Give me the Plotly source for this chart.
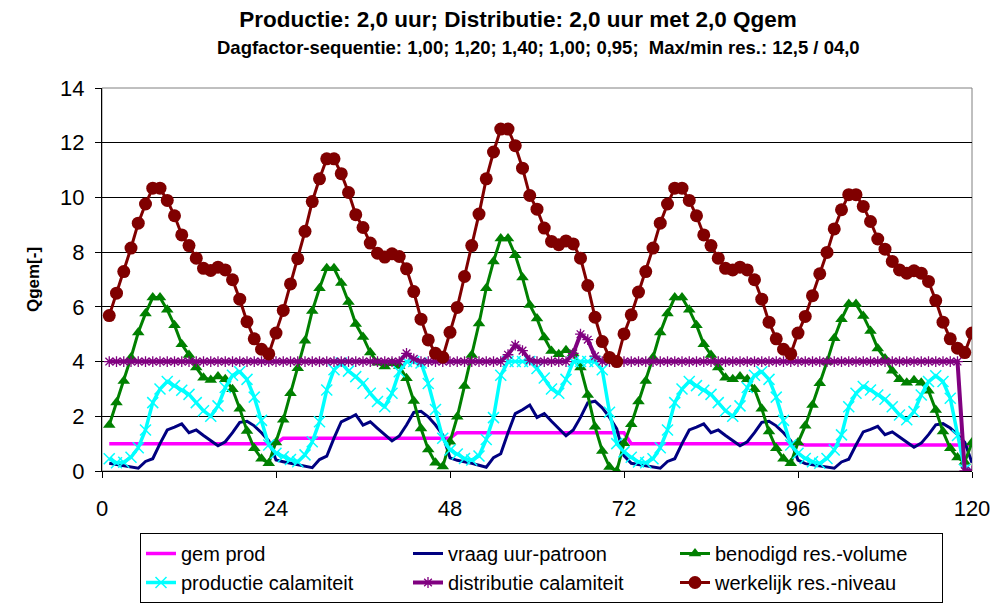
import plotly.graph_objects as go

FONT = "Liberation Sans, Arial, sans-serif"

hours = list(range(1, 121))
x_ticks = [0, 24, 48, 72, 96, 120]
y_ticks = [0, 2, 4, 6, 8, 10, 12, 14]

title_text = "Productie: 2,0 uur; Distributie: 2,0 uur met 2,0 Qgem"
subtitle_text = "Dagfactor-sequentie: 1,00; 1,20; 1,40; 1,00; 0,95;  Max/min res.: 12,5 / 04,0"
y_title = "Qgem[-]"

gem_prod = [
    1.00, 1.00, 1.00, 1.00, 1.00, 1.00, 1.00, 1.00, 1.00, 1.00, 1.00, 1.00,
    1.00, 1.00, 1.00, 1.00, 1.00, 1.00, 1.00, 1.00, 1.00, 1.00, 1.00, 1.00,
    1.20, 1.20, 1.20, 1.20, 1.20, 1.20, 1.20, 1.20, 1.20, 1.20, 1.20, 1.20,
    1.20, 1.20, 1.20, 1.20, 1.20, 1.20, 1.20, 1.20, 1.20, 1.20, 1.20, 1.20,
    1.40, 1.40, 1.40, 1.40, 1.40, 1.40, 1.40, 1.40, 1.40, 1.40, 1.40, 1.40,
    1.40, 1.40, 1.40, 1.40, 1.40, 1.40, 1.40, 1.40, 1.40, 1.40, 1.40, 1.40,
    1.00, 1.00, 1.00, 1.00, 1.00, 1.00, 1.00, 1.00, 1.00, 1.00, 1.00, 1.00,
    1.00, 1.00, 1.00, 1.00, 1.00, 1.00, 1.00, 1.00, 1.00, 1.00, 1.00, 1.00,
    0.95, 0.95, 0.95, 0.95, 0.95, 0.95, 0.95, 0.95, 0.95, 0.95, 0.95, 0.95,
    0.95, 0.95, 0.95, 0.95, 0.95, 0.95, 0.95, 0.95, 0.95, 0.95, 0.95, 0.95,
]

vraag_uur_patroon = [
    0.28, 0.24, 0.20, 0.15, 0.10, 0.35, 0.45, 1.00, 1.50, 1.60, 1.72, 1.40,
    1.50, 1.30, 1.10, 0.92, 1.07, 1.40, 1.78, 1.82, 1.65, 1.40, 1.10, 0.40,
    0.34, 0.29, 0.24, 0.18, 0.12, 0.42, 0.54, 1.20, 1.80, 1.92, 2.06, 1.68,
    1.80, 1.56, 1.32, 1.10, 1.28, 1.68, 2.14, 2.18, 1.98, 1.68, 1.32, 0.48,
    0.39, 0.34, 0.28, 0.21, 0.14, 0.49, 0.63, 1.40, 2.10, 2.24, 2.41, 1.96,
    2.10, 1.82, 1.54, 1.29, 1.50, 1.96, 2.49, 2.55, 2.31, 1.96, 1.54, 0.56,
    0.28, 0.24, 0.20, 0.15, 0.10, 0.35, 0.45, 1.00, 1.50, 1.60, 1.72, 1.40,
    1.50, 1.30, 1.10, 0.92, 1.07, 1.40, 1.78, 1.82, 1.65, 1.40, 1.10, 0.40,
    0.27, 0.23, 0.19, 0.14, 0.10, 0.33, 0.43, 0.95, 1.43, 1.52, 1.63, 1.33,
    1.43, 1.24, 1.05, 0.87, 1.02, 1.33, 1.69, 1.73, 1.57, 1.33, 1.05, 0.30,
]

benodigd_res_volume = [
    1.68, 2.50, 3.29, 4.15, 5.06, 5.76, 6.34, 6.34, 5.89, 5.33, 4.63, 4.24,
    3.78, 3.41, 3.33, 3.45, 3.35, 2.99, 2.28, 1.46, 0.83, 0.45, 0.28, 1.04,
    1.87, 2.84, 3.76, 4.76, 5.85, 6.68, 7.41, 7.41, 6.87, 6.18, 5.37, 4.90,
    4.33, 3.96, 3.82, 3.94, 3.84, 3.39, 2.56, 1.55, 0.79, 0.30, 0.16, 1.07,
    1.98, 3.11, 4.24, 5.39, 6.68, 7.66, 8.50, 8.50, 7.89, 7.07, 6.07, 5.57,
    4.88, 4.39, 4.27, 4.41, 4.30, 3.78, 2.78, 1.62, 0.73, 0.15, 0.00, 1.01,
    1.71, 2.54, 3.29, 4.15, 5.06, 5.76, 6.34, 6.34, 5.89, 5.33, 4.63, 4.24,
    3.78, 3.41, 3.35, 3.45, 3.35, 2.99, 2.28, 1.44, 0.83, 0.45, 0.28, 1.04,
    1.65, 2.41, 3.21, 3.99, 4.85, 5.55, 6.10, 6.10, 5.67, 5.12, 4.48, 4.11,
    3.66, 3.35, 3.23, 3.32, 3.23, 2.93, 2.23, 1.44, 0.83, 0.49, 0.33, 1.04,
]

productie_calamiteit = [
    0.45, 0.30, 0.32, 0.50, 0.85, 1.50, 2.50, 3.00, 3.27, 3.12, 2.95, 2.80,
    2.50, 2.20, 2.00, 2.38, 3.05, 3.50, 3.63, 3.35, 2.70, 1.85, 0.95, 0.65,
    0.52, 0.42, 0.34, 0.59, 1.07, 1.80, 2.96, 3.70, 3.95, 3.65, 3.45, 3.20,
    2.84, 2.54, 2.35, 2.84, 3.63, 4.00, 4.00, 3.95, 3.20, 2.25, 1.20, 0.77,
    0.62, 0.46, 0.40, 0.55, 1.15, 1.95, 3.50, 4.00, 4.00, 4.00, 4.00, 3.75,
    3.40, 3.00, 2.84, 3.35, 4.00, 4.00, 4.00, 4.00, 3.70, 2.15, 1.00, 0.70,
    0.50, 0.33, 0.30, 0.45, 0.85, 1.50, 2.50, 3.00, 3.27, 3.12, 2.95, 2.80,
    2.50, 2.20, 2.00, 2.38, 3.05, 3.50, 3.63, 3.35, 2.70, 1.85, 0.95, 0.65,
    0.46, 0.34, 0.28, 0.46, 0.77, 1.32, 2.35, 2.84, 3.09, 2.96, 2.78, 2.62,
    2.35, 2.05, 1.87, 2.17, 2.78, 3.27, 3.48, 3.27, 2.66, 1.30, 0.05, 0.00,
]

distributie_calamiteit = [
    4.00, 4.00, 4.00, 4.00, 4.00, 4.00, 4.00, 4.00, 4.00, 4.00, 4.00, 4.00,
    4.00, 4.00, 4.00, 4.00, 4.00, 4.00, 4.00, 4.00, 4.00, 4.00, 4.00, 4.00,
    4.00, 4.00, 4.00, 4.00, 4.00, 4.00, 4.00, 4.00, 4.00, 4.00, 4.00, 4.00,
    4.00, 4.00, 4.00, 4.00, 4.00, 4.30, 4.10, 4.00, 4.00, 4.00, 4.00, 4.00,
    4.00, 4.00, 4.00, 4.00, 4.00, 4.00, 4.00, 4.25, 4.60, 4.40, 4.05, 4.00,
    4.00, 4.00, 4.00, 4.00, 4.30, 5.00, 4.80, 4.20, 4.00, 4.00, 4.00, 4.00,
    4.00, 4.00, 4.00, 4.00, 4.00, 4.00, 4.00, 4.00, 4.00, 4.00, 4.00, 4.00,
    4.00, 4.00, 4.00, 4.00, 4.00, 4.00, 4.00, 4.00, 4.00, 4.00, 4.00, 4.00,
    4.00, 4.00, 4.00, 4.00, 4.00, 4.00, 4.00, 4.00, 4.00, 4.00, 4.00, 4.00,
    4.00, 4.00, 4.00, 4.00, 4.00, 4.00, 4.00, 4.00, 4.00, 4.00, 0.00, 0.00,
]

werkelijk_res_niveau = [
    5.68, 6.50, 7.29, 8.15, 9.06, 9.76, 10.34, 10.34, 9.89, 9.33, 8.63, 8.24,
    7.78, 7.41, 7.33, 7.45, 7.35, 6.99, 6.28, 5.46, 4.83, 4.45, 4.28, 5.04,
    5.87, 6.84, 7.76, 8.76, 9.85, 10.68, 11.41, 11.41, 10.87, 10.18, 9.37, 8.90,
    8.33, 7.96, 7.82, 7.94, 7.84, 7.39, 6.56, 5.55, 4.79, 4.30, 4.16, 5.07,
    5.98, 7.11, 8.24, 9.39, 10.68, 11.66, 12.50, 12.50, 11.89, 11.07, 10.07, 9.57,
    8.88, 8.39, 8.27, 8.41, 8.30, 7.78, 6.78, 5.62, 4.73, 4.15, 4.00, 5.01,
    5.71, 6.54, 7.29, 8.15, 9.06, 9.76, 10.34, 10.34, 9.89, 9.33, 8.63, 8.24,
    7.78, 7.41, 7.35, 7.45, 7.35, 6.99, 6.28, 5.44, 4.83, 4.45, 4.28, 5.04,
    5.65, 6.41, 7.21, 7.99, 8.85, 9.55, 10.10, 10.10, 9.67, 9.12, 8.48, 8.11,
    7.66, 7.35, 7.23, 7.32, 7.23, 6.93, 6.23, 5.44, 4.83, 4.49, 4.33, 5.04,
]

series = [
    ("gem prod", gem_prod, "#FF00FF", None, 3.5),
    ("vraag uur-patroon", vraag_uur_patroon, "#000080", None, 3.0),
    ("benodigd res.-volume", benodigd_res_volume, "#008000",
     dict(symbol="triangle-up", size=11, color="#008000"), 3.0),
    ("productie calamiteit", productie_calamiteit, "#00FFFF",
     dict(symbol="x-thin-open", size=11, line=dict(color="#00FFFF", width=1.5)), 3.5),
    ("distributie calamiteit", distributie_calamiteit, "#800080",
     dict(symbol="asterisk-open", size=9, line=dict(color="#800080", width=1.3)), 4.0),
    ("werkelijk res.-niveau", werkelijk_res_niveau, "#800000",
     dict(symbol="circle", size=13, color="#800000"), 3.0),
]

fig = go.Figure()
for name, values, color, marker, lw in series:
    fig.add_trace(go.Scatter(
        x=hours, y=values, name=name,
        mode="lines+markers" if marker else "lines",
        line=dict(color=color, width=lw),
        marker=marker,
    ))

fig.update_layout(
    width=999, height=605,
    margin=dict(l=102, r=27, t=88, b=134, autoexpand=False),
    paper_bgcolor="white", plot_bgcolor="white",
    font=dict(family=FONT, color="black"),
    title=dict(text="<b>" + title_text + "</b>", x=518 / 999, xref="container", xanchor="center",
               y=1 - 19 / 605, yref="container", yanchor="middle",
               font=dict(size=22.5, family=FONT, color="black")),
    legend=dict(orientation="h", x=(140 - 102) / 870, xanchor="left",
                y=(471 - 533) / 383, yanchor="top",
                bordercolor="black", borderwidth=1, bgcolor="white",
                font=dict(size=20, family=FONT, color="black"),
                entrywidth=222, entrywidthmode="pixels", traceorder="normal",
                itemwidth=30),
    shapes=[dict(type="rect", xref="paper", yref="paper", x0=0, x1=1, y0=0, y1=1,
                 line=dict(color="#808080", width=1), layer="below")],
    annotations=[dict(text="<b>" + subtitle_text + "</b>", xref="paper", yref="paper",
                      x=(538 - 102) / 870, y=(471 - 47) / 383, xanchor="center", yanchor="middle",
                      showarrow=False, font=dict(size=18.5, family=FONT, color="black"))],
)

fig.update_xaxes(range=[0, 120], tickvals=x_ticks, ticktext=[str(v) for v in x_ticks],
                 showline=True, linecolor="black", linewidth=1,
                 ticks="outside", ticklen=6, tickcolor="black",
                 showgrid=False, zeroline=False,
                 tickfont=dict(size=22, family=FONT, color="black"), ticklabelstandoff=12)
fig.update_yaxes(range=[0, 14], tickvals=y_ticks, ticktext=[str(v) for v in y_ticks],
                 showline=True, linecolor="black", linewidth=1,
                 ticks="outside", ticklen=6, tickcolor="black",
                 showgrid=True, gridcolor="black", gridwidth=1, zeroline=False,
                 tickfont=dict(size=22, family=FONT, color="black"), ticklabelstandoff=6,
                 title=dict(text="<b>" + y_title + "</b>", standoff=16,
                            font=dict(size=17, family=FONT, color="black")))

fig.write_html("out.html", config={"displayModeBar": False},
               post_script="document.body.style.margin='0';document.body.style.overflow='hidden';")
